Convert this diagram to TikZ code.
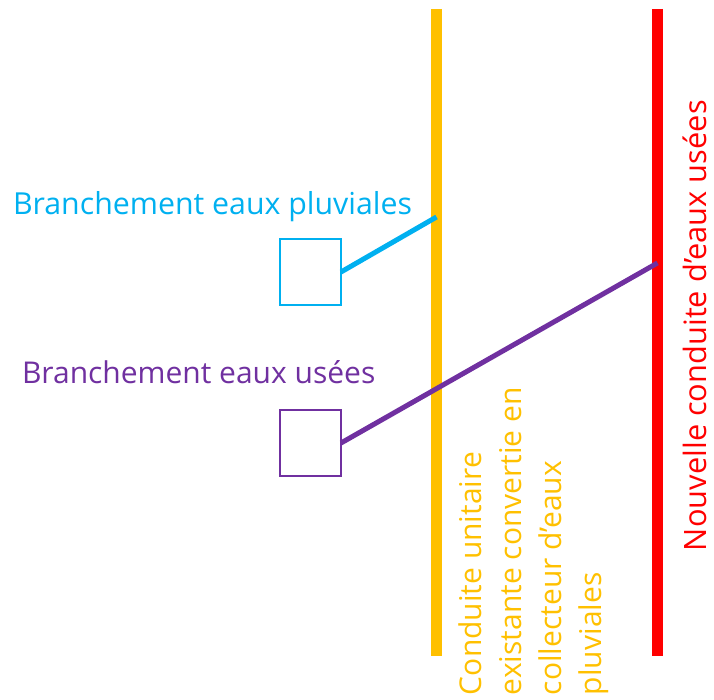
\documentclass[tikz,border=0pt]{standalone}
\usepackage{fontspec}
\setmainfont{Open Sans}
\definecolor{pluvblue}{HTML}{00B0F0}
\definecolor{usepurple}{HTML}{7030A0}
\definecolor{unitorange}{HTML}{FFC000}
\definecolor{newred}{HTML}{FF0000}
\tikzset{
  pipe/.style={line width=11pt},
  housebox/.style={draw, line width=2pt, minimum width=61pt, minimum height=66pt, inner sep=0pt, outer sep=0pt},
  link/.style={line width=5pt},
  lbl/.style={font=\fontsize{30}{40}\selectfont, inner sep=0pt, outer sep=0pt},
}
\begin{document}
\begin{tikzpicture}[x=1pt,y=-1pt]
\useasboundingbox (0,0) rectangle (714,700);
% pipes
\coordinate (otop) at (436.5,9);
\coordinate (obot) at (436.5,656);
\coordinate (rtop) at (657.5,9);
\coordinate (rbot) at (657.5,656);
\draw[pipe, unitorange] (otop) -- (obot);
\draw[pipe, newred] (rtop) -- (rbot);
% houses
\node[housebox, pluvblue] (bp) at (310.5,272) {};
\node[housebox, usepurple] (bu) at (310.5,443) {};
\coordinate (jp) at (436.5,217);
\coordinate (ju) at (657.5,263);
\draw[link, pluvblue] (bp.east) -- (jp);
\draw[link, usepurple] (bu.east) -- (ju);
% labels
\node[lbl, pluvblue, anchor=base west, font=\fontsize{30.3}{40}\selectfont] (tp) at (13,215) {Branchement eaux pluviales};
\node[lbl, usepurple, anchor=base west] (tu) at (22,383) {Branchement eaux usées};
\node[lbl, newred, rotate=90, anchor=base west, font=\fontsize{30.8}{40}\selectfont] (tr) at (706,551) {Nouvelle conduite d’eaux usées};
\node[lbl, unitorange, rotate=90, anchor=north west, align=left] (to) at (459,695) {Conduite unitaire\\existante convertie en\\collecteur d’eaux\\pluviales};
\end{tikzpicture}
\end{document}
